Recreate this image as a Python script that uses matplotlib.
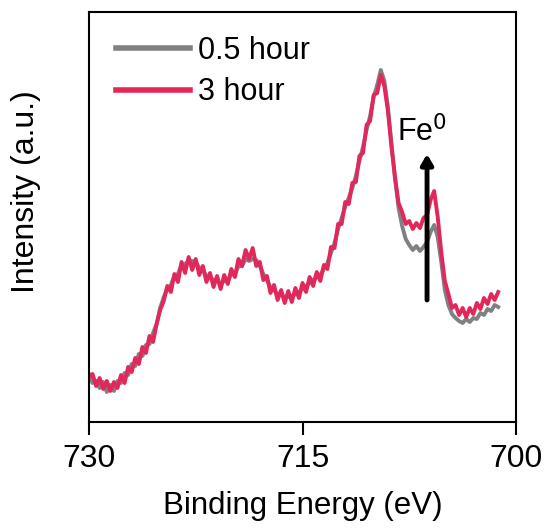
import numpy as np
import matplotlib
matplotlib.use("Agg")
import matplotlib.pyplot as plt

plt.rcParams['font.family'] = ['Liberation Sans', 'DejaVu Sans']

# Binding energy grid (eV), 730 -> 701.25 in 0.25 eV steps
energy = np.arange(730.0, 701.0, -0.25)

intensity_3h = [45, 48, 36, 44, 33, 41, 31, 40, 34, 47, 39, 55, 50, 64, 58, 75,
                69, 86, 80, 98, 112, 121, 136, 130, 148, 140, 160, 149, 165, 152,
                163, 147, 156, 140, 149, 135, 146, 133, 147, 138, 153, 145, 163,
                156, 172, 163, 174, 156, 160, 142, 146, 129, 137, 122, 132, 119,
                131, 120, 134, 124, 139, 130, 145, 136, 150, 141, 157, 153, 175,
                174, 198, 198, 220, 218, 239, 240, 266, 269, 297, 301, 327, 329,
                347, 336, 311, 275, 245, 219, 210, 198, 201, 193, 199, 194, 204,
                207, 222, 231, 205, 170, 141, 128, 114, 117, 107, 114, 105, 114,
                108, 119, 113, 124, 118, 128, 122, 130]

intensity_05h = [48, 39, 41, 34, 40, 30, 37, 31, 41, 39, 49, 47, 58, 56, 68, 66,
                 77, 78, 89, 98, 114, 125, 133, 137, 146, 148, 157, 158, 161, 161,
                 160, 154, 152, 146, 145, 142, 141, 138, 141, 141, 148, 147, 156,
                 156, 163, 161, 163, 162, 156, 148, 142, 135, 132, 128, 127, 125,
                 125, 126, 128, 130, 133, 136, 139, 142, 145, 147, 153, 159, 169,
                 179, 193, 204, 215, 224, 234, 246, 261, 275, 292, 306, 325, 337,
                 352, 341, 315, 279, 243, 214, 196, 183, 177, 172, 176, 171, 175,
                 180, 190, 197, 185, 160, 132, 117, 108, 104, 101, 99, 103, 100,
                 104, 103, 109, 107, 113, 111, 117, 115]

labels = ["0.5 hour", "3 hour"]
colors = ["#808080", "#E2285A"]
xticks = [730, 715, 700]

fig = plt.figure(figsize=(5.46, 5.29), dpi=100)
ax = fig.add_axes([89/546, 1 - 422/529, (516-89)/546, (422-12)/529])

ax.plot(energy, intensity_05h, color=colors[0], lw=2.8, label=labels[0])
ax.plot(energy, intensity_3h, color=colors[1], lw=2.8, label=labels[1])

ax.set_xlim(730, 700)
ax.set_ylim(0, 410)
ax.set_xticks(xticks)
ax.set_xticklabels([str(t) for t in xticks])
ax.set_yticks([])
ax.tick_params(axis='x', direction='out', length=9, width=1.5, labelsize=23, pad=7)
for s in ax.spines.values():
    s.set_linewidth(1.5)

ax.set_xlabel("Binding Energy (eV)", fontsize=22.5, labelpad=12)
ax.set_ylabel("Intensity (a.u.)", fontsize=23)
ax.yaxis.set_label_coords(-0.112, 0.563)

leg = ax.legend(loc='upper left', frameon=False, fontsize=22, handlelength=2.42,
                handletextpad=0.26, labelspacing=0.37, borderpad=0, borderaxespad=0,
                bbox_to_anchor=(0.063, 0.941))
for line in leg.get_lines():
    line.set_linewidth(4)

ax.annotate("", xy=(706.25, 268), xytext=(706.25, 122),
            arrowprops=dict(arrowstyle="-|>,head_width=0.35,head_length=0.6",
                        color="black", lw=3.5, shrinkA=0, shrinkB=0))
ax.text(706.6, 290, "Fe$^0$", fontsize=22, ha='center', va='center')

fig.savefig("out.png", dpi=100)
